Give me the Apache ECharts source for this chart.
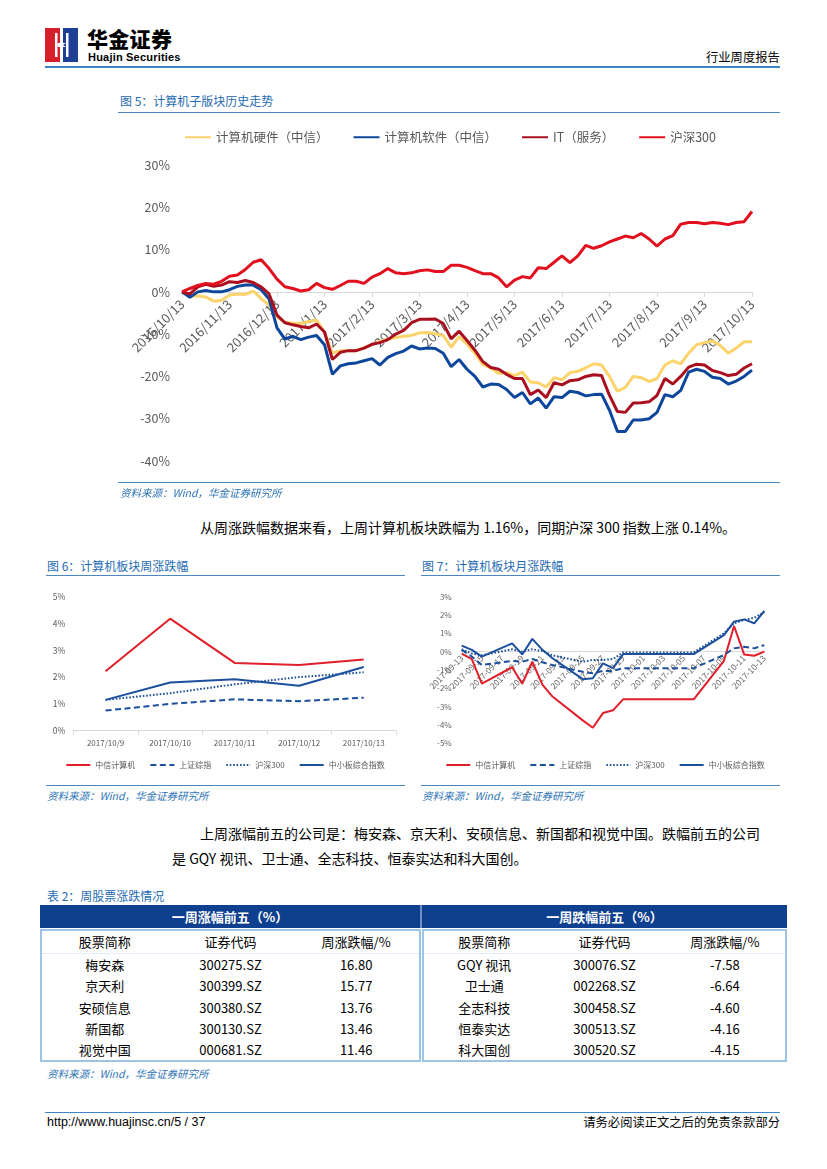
<!DOCTYPE html>
<html><head><meta charset="utf-8">
<script src="https://cdn.jsdelivr.net/npm/echarts@6/dist/echarts.min.js"></script>
<style>
body{margin:0;background:#fff;}
#page{position:relative;width:827px;height:1169px;overflow:hidden;font-family:'Noto Sans CJK SC','Noto Sans',sans-serif;color:#000;background:#fff;}
.abs{position:absolute;white-space:nowrap;}
.ttl{color:#1f6bb3;font-size:12px;line-height:14px;}
.src{color:#2e74b5;font-size:10.5px;font-style:italic;line-height:12px;}
.rule{position:absolute;height:0;border-top:1.3px solid #4d87c2;}
.para{font-size:14px;line-height:18px;color:#000;}
.box{position:absolute;border:2px solid #9dc3e6;box-sizing:border-box;}
.box table{border-collapse:collapse;width:100%;table-layout:fixed;font-size:13px;}
.box td{text-align:center;padding:0;height:21.3px;line-height:21.3px;white-space:nowrap;}
.box tr.hd td{height:22px;line-height:22px;border-bottom:1px solid #e3ecf6;}
</style></head>
<body>
<div id="page">
  <!-- header -->
  <svg class="abs" style="left:45px;top:28px" width="33" height="34" viewBox="0 0 33 34">
    <rect x="0" y="0" width="15" height="34" fill="#d71f2b"/>
    <rect x="18" y="0" width="15" height="34" fill="#1d3f94"/>
    <rect x="10" y="5" width="2.5" height="24" fill="#fff"/>
    <rect x="21" y="5" width="2.5" height="24" fill="#fff"/>
    <path d="M12.5 15 L21 15 L18 17 L21 19 L12.5 19 Z" fill="#fff"/>
  </svg>
  <div class="abs" style="left:87px;top:26px;font-size:21px;font-weight:900;line-height:25px;letter-spacing:0.3px;">华金证券</div>
  <div class="abs" style="left:88px;top:51px;font-family:'Liberation Sans Narrow','Liberation Sans',sans-serif;font-weight:bold;font-size:11px;line-height:12px;letter-spacing:0.2px;">Huajin Securities</div>
  <div class="abs" style="left:706px;top:50px;font-size:12.3px;line-height:15px;">行业周度报告</div>
  <div class="rule" style="left:45px;top:66px;width:735px;border-top:2px solid #3b86c6;"></div>

  <!-- figure 5 -->
  <div class="abs ttl" style="left:120px;top:94px;">图 5：计算机子版块历史走势</div>
  <div class="rule" style="left:118px;top:112px;width:662px;"></div>
  <div id="c5" class="abs" style="left:110px;top:120px;width:680px;height:365px;"></div>
  <div class="rule" style="left:118px;top:482px;width:662px;"></div>
  <div class="abs src" style="left:120px;top:487px;">资料来源：Wind，华金证券研究所</div>

  <div class="abs para" style="left:200px;top:518px;">从周涨跌幅数据来看，上周计算机板块跌幅为 1.16%，同期沪深 300 指数上涨 0.14%。</div>

  <!-- figure 6 -->
  <div class="abs ttl" style="left:47px;top:559px;">图 6：计算机板块周涨跌幅</div>
  <div class="rule" style="left:46px;top:575px;width:359px;"></div>
  <div id="c6" class="abs" style="left:40px;top:580px;width:370px;height:200px;"></div>
  <div class="rule" style="left:46px;top:785px;width:359px;"></div>
  <div class="abs src" style="left:47px;top:790px;">资料来源：Wind，华金证券研究所</div>

  <!-- figure 7 -->
  <div class="abs ttl" style="left:422px;top:559px;">图 7：计算机板块月涨跌幅</div>
  <div class="rule" style="left:421px;top:575px;width:359px;"></div>
  <div id="c7" class="abs" style="left:415px;top:580px;width:380px;height:200px;"></div>
  <div class="rule" style="left:421px;top:785px;width:359px;"></div>
  <div class="abs src" style="left:422px;top:790px;">资料来源：Wind，华金证券研究所</div>

  <div class="abs para" style="left:200px;top:824px;">上周涨幅前五的公司是：梅安森、京天利、安硕信息、新国都和视觉中国。跌幅前五的公司</div>
  <div class="abs para" style="left:172px;top:849px;">是 GQY 视讯、卫士通、全志科技、恒泰实达和科大国创。</div>

  <!-- table -->
  <div class="abs ttl" style="left:47px;top:889px;">表 2：周股票涨跌情况</div>
  <div class="abs" style="left:40px;top:905px;width:747px;height:23px;background:#0f3f8f;"></div>
  <div class="abs" style="left:420px;top:905px;width:1.5px;height:23px;background:#6d8fc4;"></div>
  <div class="abs" style="left:40px;top:905px;width:380px;height:23px;line-height:23px;text-align:center;color:#fff;font-weight:bold;font-size:13px;">一周涨幅前五（%）</div>
  <div class="abs" style="left:422px;top:905px;width:365px;height:23px;line-height:23px;text-align:center;color:#fff;font-weight:bold;font-size:13px;">一周跌幅前五（%）</div>
  <div class="box" style="left:40px;top:929px;width:381px;height:133px;"><table id="tg"></table></div>
  <div class="box" style="left:422px;top:929px;width:365px;height:133px;"><table id="tl"></table></div>
  <div class="abs src" style="left:47px;top:1068px;">资料来源：Wind，华金证券研究所</div>

  <!-- footer -->
  <div class="rule" style="left:45px;top:1112px;width:735px;border-top:1.3px solid #3b86c6;"></div>
  <div class="abs" style="left:47px;top:1115px;font-size:12.5px;line-height:15px;font-family:'Liberation Sans','Noto Sans CJK SC',sans-serif;">http://www.huajinsc.cn/5 / 37</div>
  <div class="abs" style="left:582px;top:1115px;width:198px;text-align:right;font-size:12.3px;line-height:15px;">请务必阅读正文之后的免责条款部分</div>
</div>

<script>
// ---------- Figure 5 data (6 points per month, 2016/10/13 - 2017/10/13) ----------
const monthTicks = ['2016/10/13','2016/11/13','2016/12/13','2017/1/13','2017/2/13','2017/3/13','2017/4/13','2017/5/13','2017/6/13','2017/7/13','2017/8/13','2017/9/13','2017/10/13'];
const names5 = ['计算机硬件（中信）','计算机软件（中信）','IT（服务）','沪深300'];
const hardware = [0,-1.0,-1.0,-1.2,-2.2,-2.0,-0.8,-0.5,-0.6,0.2,-1.6,-3.1,-5.9,-7.2,-7.4,-7.5,-7.0,-6.7,-9.5,-14.5,-13.9,-13.9,-13.9,-13.2,-12.5,-11.7,-11.2,-10.8,-10.5,-10.3,-9.7,-9.6,-9.9,-10.3,-13.1,-10.6,-12.4,-14.5,-17.2,-18.0,-19.3,-19.1,-19.8,-19.0,-21.3,-21.5,-22.5,-20.3,-20.8,-19.1,-18.8,-18.0,-17.0,-17.3,-20.0,-23.5,-22.6,-20.0,-20.3,-21.2,-20.5,-17.3,-16.3,-17.0,-14.5,-12.5,-12.0,-11.6,-12.7,-14.5,-13.3,-11.8,-11.8];
const software = [0,-1.3,0,0.3,0,0,0.5,1.3,1.6,1.6,0.5,-1.7,-8.5,-11.2,-10.5,-11.3,-10.7,-10.3,-12.5,-19.5,-17.5,-17,-16.8,-16.3,-15.8,-17.3,-15.5,-14.6,-14,-12.8,-13.5,-13.3,-13.4,-14.5,-17.7,-16,-18.3,-20,-22.5,-21.8,-21.9,-23.1,-25,-23.8,-26.5,-25.1,-27.5,-24.8,-25,-23.5,-23.8,-24.6,-24.3,-24.2,-28,-33,-33,-30.3,-30.3,-30,-28.5,-24.3,-24.8,-23.3,-19,-18.3,-18.8,-20.2,-20.5,-21.8,-21.1,-20,-18.5];
const itService = [0,-0.5,1.2,1.8,1.3,1.6,2.4,2.2,2.7,2.2,1.2,-0.5,-5.5,-7.3,-7.8,-8.2,-8.5,-7.6,-9.5,-16,-14.3,-13.9,-13.9,-13.3,-12.4,-12,-11.3,-10,-9.1,-7.3,-6.5,-6.5,-6.4,-7.5,-11.1,-9.3,-11.5,-13.8,-16.5,-17.9,-18.3,-19.5,-20.5,-20.5,-24.3,-23.2,-25,-21.5,-22,-21,-20.8,-20,-19.6,-19.8,-24.5,-28.3,-28.5,-26.3,-26.2,-26,-24.5,-20.5,-21.8,-20,-17.8,-17.1,-17.3,-18.6,-19.1,-19.8,-19.5,-18,-17];
const hs300 = [0,0.8,1.5,2.0,1.8,2.5,3.7,4.0,5.3,7.0,7.6,5.5,3.0,1.2,0.8,0.2,0.5,2.0,1.0,0.6,1.5,2.5,2.5,2.0,3.5,4.3,5.5,4.5,4.3,4.5,5.0,5.2,4.8,4.8,6.3,6.3,5.8,5.0,4.3,4.3,3.3,1.2,2.8,3.6,3.3,5.7,5.5,7.0,8.5,6.9,8.5,11.0,10.3,10.9,11.8,12.5,13.2,12.8,13.8,12.5,10.8,12.5,13.3,16.0,16.4,16.4,16.1,16.4,16.2,15.9,16.4,16.6,19.0];
const colors5 = ['#fdd36b','#0d479c','#a90f1f','#e2101e'];
const yTicks5 = {min:-40, max:30, step:10};

// ---------- Figure 6 data ----------
const cats6 = ['2017/10/9','2017/10/10','2017/10/11','2017/10/12','2017/10/13'];
const names67 = ['中信计算机','上证综指','沪深300','中小板综合指数'];
const zxComputer6 = [2.22,4.18,2.53,2.45,2.66];
const szIndex6 = [0.75,1.0,1.17,1.1,1.23];
const hs3006 = [1.15,1.4,1.73,2.0,2.18];
const smeIndex6 = [1.15,1.8,1.92,1.68,2.38];

// ---------- Figure 7 data (daily, null = non-trading day) ----------
const cats7 = ['2017-09-13','2017-09-14','2017-09-15','2017-09-16','2017-09-17','2017-09-18','2017-09-19','2017-09-20','2017-09-21','2017-09-22','2017-09-23','2017-09-24','2017-09-25','2017-09-26','2017-09-27','2017-09-28','2017-09-29','2017-09-30','2017-10-01','2017-10-02','2017-10-03','2017-10-04','2017-10-05','2017-10-06','2017-10-07','2017-10-08','2017-10-09','2017-10-10','2017-10-11','2017-10-12','2017-10-13'];
const zxComputer7 = [-0.1,-0.4,-1.75,null,null,-0.85,-1.75,-0.55,-1.8,-2.45,null,null,-3.75,-4.15,-3.35,-3.2,-2.6,null,null,null,null,null,null,-2.6,null,null,-0.5,1.4,-0.15,-0.22,0];
const szIndex7 = [0.1,-0.27,-0.73,null,null,-0.5,-0.55,-0.4,-0.58,-0.73,null,null,-1.1,-1.18,-1.05,-1.05,-0.9,null,null,null,null,null,null,-0.9,null,null,-0.18,0.18,0.27,0.18,0.36];
const hs3007 = [0.13,-0.1,-0.2,null,null,0.13,0,0.13,0.04,-0.2,null,null,-0.55,-0.45,-0.45,-0.4,-0.04,null,null,null,null,null,null,-0.04,null,null,1.0,1.55,1.73,1.85,2.15];
const smeIndex7 = [0.33,0.1,-0.27,null,null,0.45,-0.15,0.7,0.1,-0.36,null,null,-1.5,-1.45,-0.64,-0.9,-0.13,null,null,null,null,null,null,-0.13,null,null,0.9,1.64,1.76,1.55,2.22];

// ---------- Table data ----------
const tableHead = ['股票简称','证券代码','周涨跌幅/%'];
const gainNames = ['梅安森','京天利','安硕信息','新国都','视觉中国'];
const gainCodes = ['300275.SZ','300399.SZ','300380.SZ','300130.SZ','000681.SZ'];
const gainPct = ['16.80','15.77','13.76','13.46','11.46'];
const loseNames = ['GQY 视讯','卫士通','全志科技','恒泰实达','科大国创'];
const loseCodes = ['300076.SZ','002268.SZ','300458.SZ','300513.SZ','300520.SZ'];
const losePct = ['-7.58','-6.64','-4.60','-4.16','-4.15'];

function fillTable(id, n, c, p){
  let h = '<tr class="hd">' + tableHead.map(t=>'<td>'+t+'</td>').join('') + '</tr>';
  for (let i=0;i<n.length;i++) h += '<tr><td>'+n[i]+'</td><td>'+c[i]+'</td><td>'+p[i]+'</td></tr>';
  document.getElementById(id).innerHTML = h;
}
fillTable('tg', gainNames, gainCodes, gainPct);
fillTable('tl', loseNames, loseCodes, losePct);

// build figure 5 categories (6 slots per month)
const cats5 = [];
const subDays = [13,18,23,28,33,38];
for (let m=0;m<monthTicks.length;m++){
  const parts = monthTicks[m].split('/');
  let y = +parts[0], mo = +parts[1];
  const last = (m === monthTicks.length-1);
  for (let k=0;k<(last?1:6);k++){
    let d = subDays[k], mm = mo, yy = y;
    if (d > 30){ d -= 30; mm += 1; if (mm>12){mm=1;yy+=1;} }
    cats5.push(k===0 ? monthTicks[m] : (yy+'/'+mm+'/'+d));
  }
}

const FONT = "'Noto Sans CJK SC','Noto Sans',sans-serif";
const GRAY = '#595959';

// place a bottom category axis on the zero line of the value axis
function zeroOffset(plotH, min, max){ return -plotH * (0 - min) / (max - min); }

const G5 = {left:72,right:38,top:45,bottom:24};
const H5 = 365 - G5.top - G5.bottom;
const c5 = echarts.init(document.getElementById('c5'));
c5.setOption({
  animation:false,
  textStyle:{fontFamily:FONT},
  legend:{top:6,left:'center',itemWidth:26,itemHeight:14,itemGap:24,data:names5,
    itemStyle:{opacity:0},textStyle:{color:GRAY,fontSize:12.5,fontFamily:FONT}},
  grid:Object.assign({outerBoundsMode:'none'},G5),
  xAxis:{type:'category',data:cats5,boundaryGap:false,position:'bottom',
    offset:zeroOffset(H5,yTicks5.min,yTicks5.max),
    axisLine:{onZero:false,lineStyle:{color:'#d9d9d9',width:1}},
    axisTick:{show:true,interval:(i)=>i%6===0,length:5,lineStyle:{color:'#d9d9d9'}},
    axisLabel:{interval:(i)=>i%6===0,rotate:45,color:GRAY,fontSize:13,margin:10,fontFamily:FONT,hideOverlap:false},
    splitLine:{show:false}},
  yAxis:{type:'value',min:yTicks5.min,max:yTicks5.max,interval:yTicks5.step,
    axisLine:{show:false},axisTick:{show:false},splitLine:{show:false},
    axisLabel:{formatter:'{value}%',color:GRAY,fontSize:12.5,margin:12,fontFamily:FONT}},
  series:[hardware,software,itService,hs300].map((d,i)=>({
    name:names5[i],type:'line',data:d,symbol:'none',smooth:false,
    lineStyle:{width:3,color:colors5[i]},itemStyle:{color:colors5[i]}
  }))
});

const red = '#e01f2a', blue = '#1c4f9c';
function smallSeries(datas){
  const styles = [
    {color:red,type:'solid'},
    {color:blue,type:[6,3.5]},
    {color:blue,type:[1.6,1.8]},
    {color:blue,type:'solid'}
  ];
  return datas.map((d,i)=>({
    name:names67[i],type:'line',data:d,symbol:'none',connectNulls:true,
    lineStyle:{width:2,color:styles[i].color,type:styles[i].type},
    itemStyle:{color:styles[i].color}
  }));
}
const legendSmall = {top:176,left:'center',itemWidth:24,itemHeight:10,itemGap:14,data:names67,
  itemStyle:{opacity:0},textStyle:{color:GRAY,fontSize:8,fontFamily:FONT}};

const c6 = echarts.init(document.getElementById('c6'));
c6.setOption({
  animation:false,
  textStyle:{fontFamily:FONT},
  legend:legendSmall,
  grid:{left:33.3,right:14,top:16.7,bottom:49.3,outerBoundsMode:'none'},
  xAxis:{type:'category',data:cats6,boundaryGap:true,
    axisLine:{lineStyle:{color:'#d9d9d9'}},
    axisTick:{show:true,length:4,lineStyle:{color:'#d9d9d9'}},
    axisLabel:{color:GRAY,fontSize:8,margin:8,fontFamily:FONT}},
  yAxis:{type:'value',min:0,max:5,interval:1,
    axisLine:{show:false},axisTick:{show:false},splitLine:{show:false},
    axisLabel:{formatter:'{value}%',color:GRAY,fontSize:8.5,margin:8,fontFamily:FONT}},
  series:smallSeries([zxComputer6,szIndex6,hs3006,smeIndex6])
});

const G7 = {left:46.7,right:30.7,top:16.7,bottom:36.7};
const H7 = 200 - G7.top - G7.bottom;
const c7 = echarts.init(document.getElementById('c7'));
c7.setOption({
  animation:false,
  textStyle:{fontFamily:FONT},
  legend:legendSmall,
  grid:Object.assign({outerBoundsMode:'none'},G7),
  xAxis:{type:'category',data:cats7,boundaryGap:false,position:'bottom',
    offset:zeroOffset(H7,-5,3),
    axisLine:{onZero:false,lineStyle:{color:'#d9d9d9'}},
    axisTick:{show:false},
    axisLabel:{interval:1,rotate:45,color:'#666',fontSize:8.5,margin:5,fontFamily:FONT,hideOverlap:false}},
  yAxis:{type:'value',min:-5,max:3,interval:1,
    axisLine:{show:false},axisTick:{show:false},splitLine:{show:false},
    axisLabel:{formatter:'{value}%',color:'#666',fontSize:8,margin:10,fontFamily:FONT}},
  series:smallSeries([zxComputer7,szIndex7,hs3007,smeIndex7])
});
</script>
</body></html>
